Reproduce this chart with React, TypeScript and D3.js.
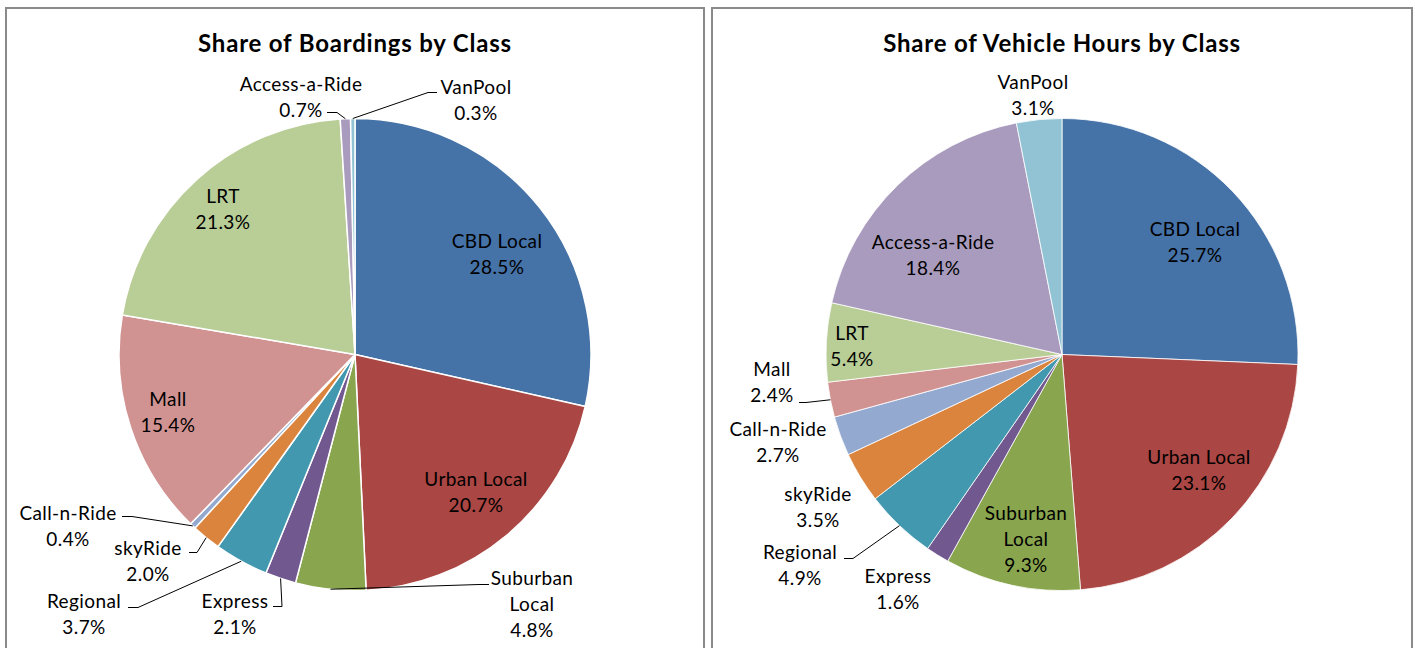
import React from 'react';
import * as d3 from 'd3';

// ---- Data ----
const classes = ['CBD Local', 'Urban Local', 'Suburban Local', 'Express', 'Regional', 'skyRide', 'Call-n-Ride', 'Mall', 'LRT', 'Access-a-Ride', 'VanPool'];
const boardingShare = [28.5, 20.7, 4.8, 2.1, 3.7, 2.0, 0.4, 15.4, 21.3, 0.7, 0.3];
const vehicleHoursShare = [25.7, 23.1, 9.3, 1.6, 4.9, 3.5, 2.7, 2.4, 5.4, 18.4, 3.1];
const classColors = ['#4572A7', '#AA4643', '#89A54E', '#71588F', '#4198AF', '#DB843D', '#93A9CF', '#D19392', '#B9CD96', '#A99BBD', '#92C3D5'];
const chartTitles = ['Share of Boardings by Class', 'Share of Vehicle Hours by Class'];

// ---- Layout (label placement relative to pie centre, px) ----
type Pt = [number, number];
const boardingLabelPos: Pt[] = [
  [142, -101], [121, 137], [177, 249], [-120, 259], [-271, 259], [-207, 206],
  [-287, 171], [-187, 57], [-132, -146], [-54, -258], [121, -255],
];
const boardingLeaders: Record<number, [Pt, Pt]> = {
  2: [[134, 230], [124, 230]],
  3: [[-82, 252], [-73, 252]],
  4: [[-227, 253], [-217, 253]],
  5: [[-166, 198], [-158, 198]],
  6: [[-233, 162], [-223, 162]],
  9: [[-28, -242], [-18, -242]],
  10: [[82, -262], [73, -262]],
};
const hoursLabelPos: Pt[] = [
  [133, -113], [137, 115], [-36, 184], [-164, 234], [-262, 210], [-244, 152],
  [-284, 87], [-290, 27], [-210, -9], [-129, -100], [-29, -260],
];
const hoursLeaders: Record<number, [Pt, Pt]> = {
  4: [[-218, 204], [-209, 204]],
  7: [[-263, 48], [-256, 48]],
};

const FONT = 'Lato, "Open Sans", sans-serif';
const LINE = 26;

function splitLabel(name: string, value: number): string[] {
  const parts = name === 'Suburban Local' ? ['Suburban', 'Local'] : [name];
  return [...parts, `${value.toFixed(1)}%`];
}

function PiePanel({ x, width, title, values, labelPos, leaders, strokeW }: {
  x: number; width: number; title: string; values: number[]; labelPos: Pt[];
  leaders: Record<number, [Pt, Pt]>; strokeW: number;
}) {
  const cx = x + width / 2;
  const cy = 354.5;
  const r = 236;
  const pie = d3.pie<number>().sort(null).value((d) => d)(values);
  const arc = d3.arc<d3.PieArcDatum<number>>().innerRadius(0).outerRadius(r);
  return (
    <g>
      <rect x={x} y={8} width={width} height={700} fill="#fff" stroke="#8a8a8a" strokeWidth={2} />
      <text x={cx} y={42} textAnchor="middle" dominantBaseline="central" fontFamily={FONT}
        fontWeight="bold" fontSize={24} letterSpacing={0.8} fill="#000">{title}</text>
      <g transform={`translate(${cx},${cy})`}>
        {pie.map((s, i) => (
          <path key={i} d={arc(s) || ''} fill={classColors[i]} stroke="#fff" strokeWidth={strokeW} strokeLinejoin="round" />
        ))}
        {pie.map((s, i) => {
          const lead = leaders[i];
          if (!lead) return null;
          const mid = (s.startAngle + s.endAngle) / 2;
          const end: Pt = [r * Math.sin(mid), -r * Math.cos(mid)];
          const path = d3.line()([lead[0], lead[1], end]) || '';
          return <path key={'l' + i} d={path} fill="none" stroke="#000" strokeWidth={1} />;
        })}
        {pie.map((s, i) => {
          const lines = splitLabel(classes[i], values[i]);
          const [lx, ly] = labelPos[i];
          return (
            <g key={'t' + i}>
              {lines.map((t, k) => (
                <text key={k} x={lx} y={ly + (k - (lines.length - 1) / 2) * LINE} textAnchor="middle"
                  dominantBaseline="central" fontFamily={FONT} fontSize={19} letterSpacing={0.4} fill="#000">{t}</text>
              ))}
            </g>
          );
        })}
      </g>
    </g>
  );
}

export default function App() {
  return (
    <svg width={1415} height={648} style={{ position: 'absolute', left: 0, top: 0, background: '#fff' }}>
      <rect x={0} y={0} width={1415} height={648} fill="#fff" />
      <PiePanel x={6} width={698} title={chartTitles[0]} values={boardingShare}
        labelPos={boardingLabelPos} leaders={boardingLeaders} strokeW={1.5} />
      <PiePanel x={712} width={700} title={chartTitles[1]} values={vehicleHoursShare}
        labelPos={hoursLabelPos} leaders={hoursLeaders} strokeW={0.8} />
    </svg>
  );
}
